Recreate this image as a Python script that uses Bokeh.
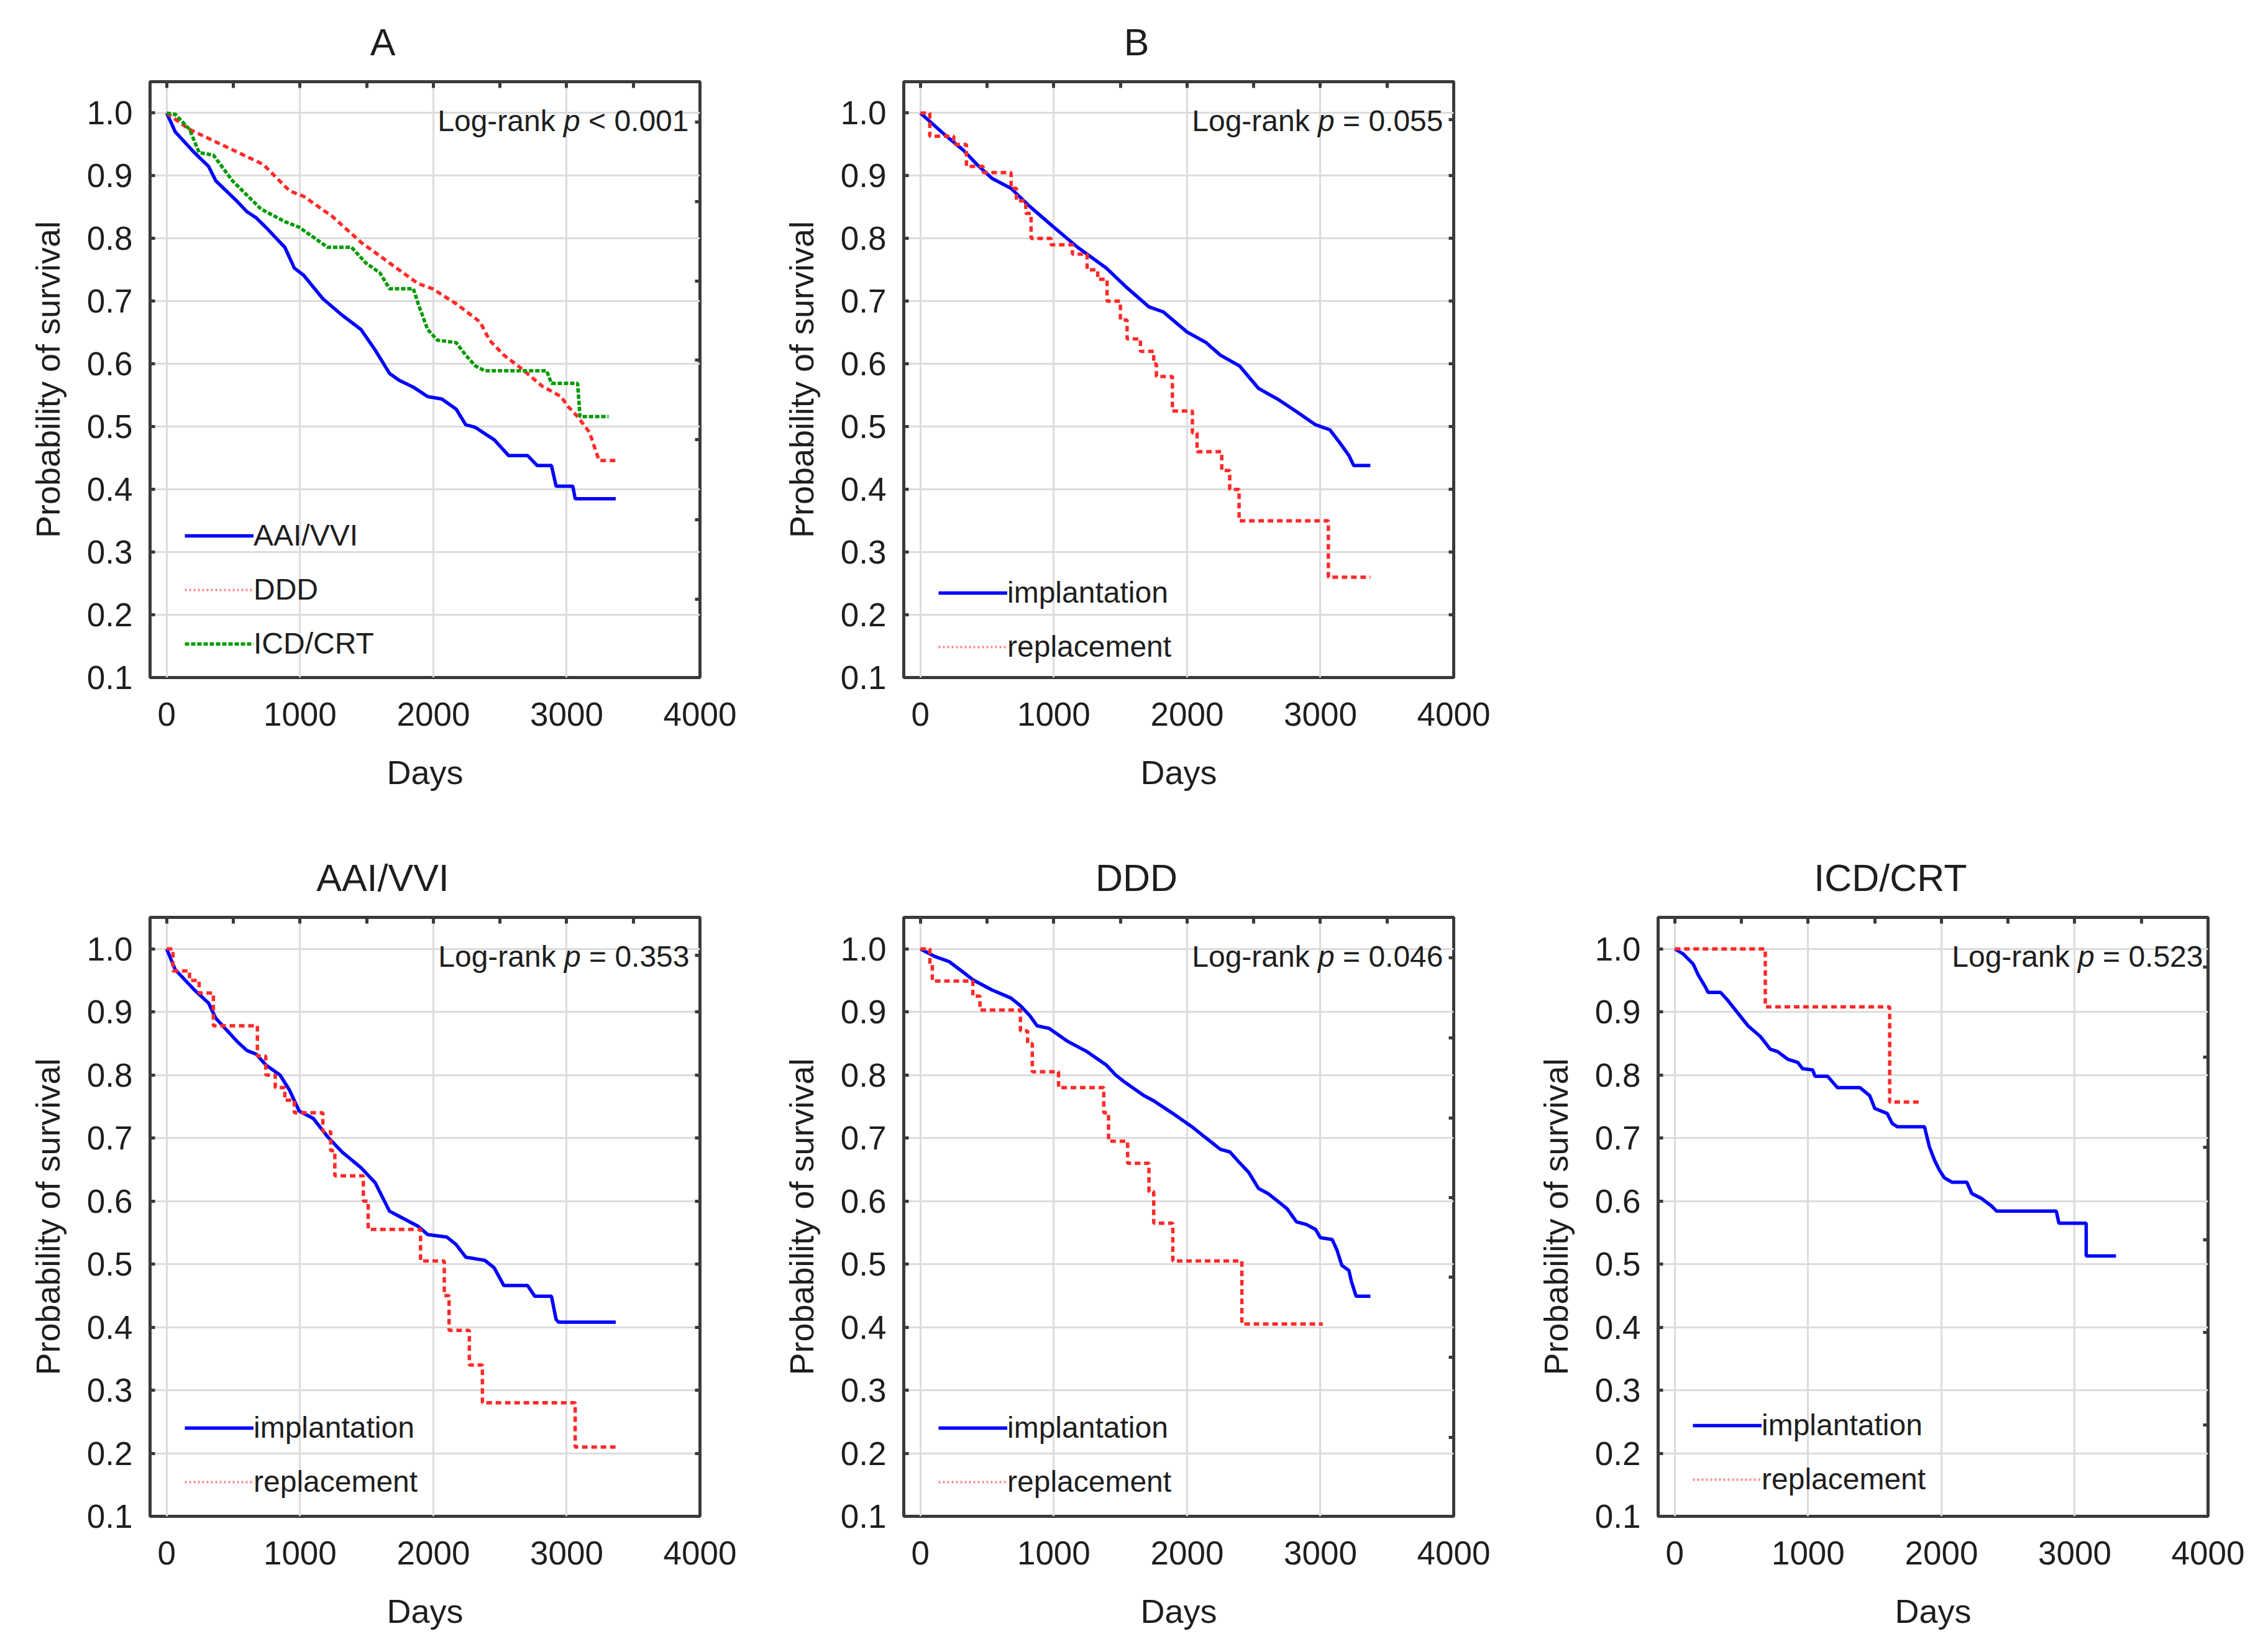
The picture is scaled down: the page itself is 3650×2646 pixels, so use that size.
from bokeh.plotting import figure
from bokeh.layouts import column, row
from bokeh.models import (Range1d, FixedTicker, PrintfTickFormatter, LinearAxis,
                          Legend, LegendItem, Label)
from bokeh.embed import file_html
from bokeh.resources import INLINE

# ---------------- data ----------------
x_ticks = [0, 1000, 2000, 3000, 4000]
y_ticks = [0.1, 0.2, 0.3, 0.4, 0.5, 0.6, 0.7, 0.8, 0.9, 1.0]
top_ticks = [0, 500, 1000, 1500, 2000, 2500, 3000, 3500]

# Panel A
a_aai_x = [0, 64, 207, 314, 368, 529, 600, 671, 743, 814, 886, 957, 1029, 1171, 1314, 1457, 1564, 1671,
           1743, 1850, 1957, 2064, 2171, 2243, 2314, 2457, 2564, 2707, 2779, 2886, 2921, 3046, 3064, 3368]
a_aai_y = [1.0, 0.970, 0.937, 0.915, 0.892, 0.859, 0.843, 0.833, 0.818, 0.802, 0.786, 0.753, 0.741, 0.704,
           0.678, 0.655, 0.622, 0.585, 0.574, 0.563, 0.548, 0.544, 0.528, 0.503, 0.499, 0.479, 0.454, 0.454,
           0.438, 0.438, 0.405, 0.405, 0.385, 0.385]
a_ddd_x = [0, 171, 725, 921, 1029, 1243, 1457, 1671, 1886, 1993, 2171, 2350, 2421, 2529, 2671, 2814, 2957,
           3011, 3082, 3171, 3243, 3368]
a_ddd_y = [1.0, 0.974, 0.918, 0.876, 0.867, 0.835, 0.794, 0.761, 0.728, 0.720, 0.696, 0.667, 0.638, 0.614,
           0.591, 0.565, 0.548, 0.532, 0.516, 0.491, 0.446, 0.446]
a_icd_x = [0, 64, 171, 243, 350, 493, 707, 814, 886, 993, 1100, 1207, 1386, 1493, 1600, 1671, 1850, 1886,
           1957, 2029, 2171, 2243, 2314, 2386, 2850, 2886, 3082, 3100, 3314]
a_icd_y = [1.0, 0.998, 0.974, 0.937, 0.933, 0.892, 0.847, 0.835, 0.827, 0.818, 0.802, 0.786, 0.786, 0.761,
           0.745, 0.720, 0.720, 0.696, 0.655, 0.638, 0.634, 0.614, 0.597, 0.589, 0.589, 0.569, 0.569, 0.516,
           0.516]

# Panel B
b_imp_x = [0, 179, 321, 429, 536, 679, 821, 1000, 1179, 1393, 1536, 1714, 1821, 2000, 2143, 2250, 2393,
           2536, 2679, 2821, 2964, 3071, 3143, 3214, 3250, 3375]
b_imp_y = [1.0, 0.966, 0.941, 0.917, 0.896, 0.880, 0.851, 0.818, 0.786, 0.753, 0.724, 0.691, 0.683, 0.651,
           0.634, 0.614, 0.597, 0.561, 0.544, 0.524, 0.503, 0.495, 0.475, 0.454, 0.438, 0.438]
b_rep_x = [0, 70, 250, 345, 470, 680, 720, 790, 830, 980, 1140, 1250, 1330, 1400, 1500, 1550, 1650, 1750,
           1770, 1890, 2040, 2075, 2260, 2320, 2390, 3060, 3375]
b_rep_y = [1.0, 0.963, 0.95, 0.915, 0.905, 0.88, 0.86, 0.84, 0.80, 0.79, 0.775, 0.75, 0.735, 0.70, 0.67,
           0.64, 0.62, 0.60, 0.58, 0.525, 0.49, 0.46, 0.43, 0.40, 0.35, 0.26, 0.26]

# AAI/VVI
aai_imp_x = [0, 64, 207, 314, 368, 529, 600, 671, 743, 850, 921, 993, 1100, 1207, 1314, 1457, 1564, 1671,
             1743, 1886, 1957, 2100, 2171, 2243, 2386, 2457, 2529, 2707, 2761, 2886, 2921, 2939, 3368]
aai_imp_y = [1.0, 0.967, 0.935, 0.914, 0.890, 0.853, 0.839, 0.833, 0.816, 0.800, 0.776, 0.743, 0.731, 0.702,
             0.678, 0.653, 0.629, 0.584, 0.576, 0.560, 0.547, 0.543, 0.531, 0.511, 0.506, 0.494, 0.466,
             0.466, 0.449, 0.449, 0.412, 0.408, 0.408]
aai_rep_x = [0, 47, 171, 243, 350, 680, 743, 814, 886, 957, 1171, 1230, 1261, 1475, 1511, 1904, 2082, 2118,
             2270, 2368, 3064, 3368]
aai_rep_y = [1.0, 0.965, 0.95, 0.93, 0.878, 0.83, 0.80, 0.78, 0.76, 0.74, 0.71, 0.68, 0.64, 0.60, 0.555,
             0.505, 0.45, 0.395, 0.34, 0.28, 0.21, 0.21]

# DDD
ddd_imp_x = [0, 107, 214, 321, 393, 536, 679, 750, 821, 875, 964, 1107, 1250, 1393, 1464, 1536, 1679, 1750,
             1893, 2036, 2107, 2179, 2250, 2321, 2393, 2464, 2536, 2607, 2679, 2750, 2821, 2893, 2964, 3000,
             3089, 3125, 3161, 3214, 3232, 3268, 3375]
ddd_imp_y = [1.0, 0.988, 0.980, 0.963, 0.951, 0.935, 0.922, 0.910, 0.894, 0.878, 0.874, 0.853, 0.837, 0.816,
             0.800, 0.788, 0.767, 0.759, 0.739, 0.718, 0.706, 0.694, 0.682, 0.678, 0.661, 0.645, 0.620,
             0.612, 0.600, 0.588, 0.567, 0.563, 0.555, 0.542, 0.539, 0.522, 0.498, 0.490, 0.473, 0.449, 0.449]
ddd_rep_x = [0, 71, 89, 393, 446, 750, 804, 839, 1036, 1375, 1411, 1554, 1714, 1750, 1893, 2411, 3018]
ddd_rep_y = [1.0, 0.976, 0.949, 0.925, 0.903, 0.87, 0.85, 0.805, 0.78, 0.74, 0.695, 0.66, 0.615, 0.565,
             0.505, 0.405, 0.405]

# ICD/CRT
icd_imp_x = [0, 63, 138, 175, 231, 250, 343, 399, 474, 549, 642, 716, 772, 847, 922, 959, 1034, 1052, 1146,
             1220, 1388, 1463, 1500, 1593, 1631, 1668, 1873, 1910, 1948, 1985, 2022, 2078, 2190, 2228, 2302,
             2377, 2414, 2862, 2881, 3086, 3086, 3310]
icd_imp_y = [1.0, 0.992, 0.976, 0.959, 0.939, 0.931, 0.931, 0.918, 0.898, 0.878, 0.861, 0.841, 0.837, 0.825,
             0.820, 0.810, 0.808, 0.798, 0.798, 0.780, 0.780, 0.767, 0.747, 0.739, 0.723, 0.718, 0.718,
             0.686, 0.665, 0.649, 0.637, 0.630, 0.630, 0.612, 0.604, 0.592, 0.584, 0.584, 0.565, 0.565,
             0.513, 0.513]
icd_rep_x = [0, 679, 1612, 1854]
icd_rep_y = [1.0, 0.908, 0.757, 0.757]

# right-edge tick marks (as drawn by the original software)
right_ticks_a = [0.986, 0.859, 0.732, 0.606, 0.479, 0.352, 0.225]
right_ticks_b = [0.99, 0.9, 0.8, 0.7, 0.6, 0.5, 0.4, 0.3, 0.2]
right_ticks_icd = [0.971, 0.828, 0.685, 0.539, 0.392, 0.245]

# ---------------- styling ----------------
FONT = "Liberation Sans"
TXT = "#1e1e1e"
BLUE = "#0000ff"
RED = "#ff2a2a"
GREEN = "#009a00"
PINK = "#ff8c8c"
LW = 5.5

ARIAL_W = {'L': 556, 'o': 556, 'g': 556, '-': 333, 'r': 333, 'a': 556, 'n': 556, 'k': 500, ' ': 278,
           'p': 556, '<': 584, '=': 584, '.': 278, 'A': 667, 'B': 667, 'I': 278, '/': 278, 'V': 667,
           'D': 722, 'C': 722, 'R': 722, 'T': 611}
for d in "0123456789":
    ARIAL_W[d] = 556

FRAME_W = 885


def tw(s, fs):
    return sum(ARIAL_W.get(c, 556) for c in s) * fs / 1000.0


def make_panel(title, width, height, left, right, bottom, right_ticks):
    p = figure(width=width, height=height, output_backend="svg", toolbar_location=None,
               x_range=Range1d(-125, 4000), y_range=Range1d(0.1, 1.05),
               min_border_left=left, min_border_right=right, min_border_top=131,
               min_border_bottom=bottom, background_fill_color="white", border_fill_color="white")
    tfs = 61
    p.title.text = title
    p.title.align = "left"
    p.title.offset = FRAME_W / 2 - 68 - tw(title, tfs) / 2
    p.title.text_font = FONT
    p.title.text_font_size = f"{tfs}px"
    p.title.text_font_style = "normal"
    p.title.text_color = TXT
    p.title.standoff = 60

    p.outline_line_color = "#3a3a3a"
    p.outline_line_width = 5
    p.outline_line_alpha = 1.0

    xa = p.xaxis[0]
    xa.ticker = FixedTicker(ticks=x_ticks)
    xa.axis_label = "Days"
    ya = p.yaxis[0]
    ya.ticker = FixedTicker(ticks=y_ticks)
    ya.formatter = PrintfTickFormatter(format="%.1f")
    ya.axis_label = "Probability of survival"
    for ax in (xa, ya):
        ax.axis_line_color = None
        ax.major_label_text_font = FONT
        ax.major_label_text_font_size = "53px"
        ax.major_label_text_color = TXT
        ax.axis_label_text_font = FONT
        ax.axis_label_text_font_size = "54px"
        ax.axis_label_text_font_style = "normal"
        ax.axis_label_text_color = TXT
        ax.minor_tick_line_color = None
        ax.major_tick_out = 0
    xa.major_tick_in = 0
    xa.major_label_standoff = 40
    xa.axis_label_standoff = 42
    ya.major_tick_in = 8
    ya.major_tick_line_color = "#3a3a3a"
    ya.major_tick_line_width = 5
    ya.major_label_standoff = 28
    ya.axis_label_standoff = 30

    # extra tick-only axes on top and right edges
    top = LinearAxis(ticker=FixedTicker(ticks=top_ticks), axis_line_color=None,
                     major_tick_in=10, major_tick_out=0, major_tick_line_width=5,
                     major_tick_line_color="#3a3a3a", minor_tick_line_color=None,
                     major_label_text_font_size="0px", major_label_text_color=None,
                     major_label_standoff=0)
    p.add_layout(top, "above")
    rt = LinearAxis(ticker=FixedTicker(ticks=right_ticks), axis_line_color=None,
                    major_tick_in=8, major_tick_out=0, major_tick_line_width=5,
                    major_tick_line_color="#3a3a3a", minor_tick_line_color=None,
                    major_label_text_font_size="0px", major_label_text_color=None,
                    major_label_standoff=0)
    p.add_layout(rt, "right")

    p.xgrid.ticker = FixedTicker(ticks=x_ticks)
    p.ygrid.ticker = FixedTicker(ticks=y_ticks)
    for g in (p.xgrid[0], p.ygrid[0]):
        g.grid_line_color = "#dcdcdc"
        g.grid_line_width = 3
    return p


def add_logrank(p, rel, stat, right_off):
    fs = 48
    a, b, c = "Log-rank", "p", rel + " " + stat
    total = tw(a + " ", fs) + tw(b, fs) + tw(" " + c, fs)
    start = -right_off - total
    offs = [start, start + tw(a + " ", fs), start + tw(a + " ", fs) + tw(b + " ", fs)]
    for txt, off, style in zip((a, b, c), offs, ("normal", "italic", "normal")):
        p.add_layout(Label(x=4000, y=0.988, x_offset=off, text=txt, text_align="left",
                           text_baseline="middle", text_font=FONT, text_font_size=f"{fs}px",
                           text_font_style=style, text_color=TXT))


def add_legend(p, items, y_loc):
    lg = Legend(items=items, location=(56, y_loc), orientation="vertical",
                glyph_width=111, glyph_height=30, label_standoff=0, spacing=32,
                padding=0, margin=0, border_line_color=None, background_fill_alpha=0,
                label_text_font=FONT, label_text_font_size="48px", label_text_color=TXT,
                label_height=30)
    p.add_layout(lg, "center")


def rep_legend_renderer(p):
    # legend-only sample (pale dotted, as in the original key); holds no visible data
    nan = float("nan")
    return p.line(x=[nan], y=[nan], line_color=PINK, line_width=4, line_dash="3 4")


W1, W3 = 1213, 1215
H1, H2 = 1345, 1293

# ---- Panel A ----
pA = make_panel("A", W1, H1, 241, 87, 255, right_ticks_a)
rA1 = pA.line(a_aai_x, a_aai_y, line_color=BLUE, line_width=LW)
pA.line(a_ddd_x, a_ddd_y, line_color=RED, line_width=LW, line_dash="9 6")
rA3 = pA.line(a_icd_x, a_icd_y, line_color=GREEN, line_width=LW, line_dash="7 3")
rA2l = rep_legend_renderer(pA)
add_legend(pA, [LegendItem(label="AAI/VVI", renderers=[rA1]),
                LegendItem(label="DDD", renderers=[rA2l]),
                LegendItem(label="ICD/CRT", renderers=[rA3])], 27)
add_logrank(pA, "<", "0.001", 18)

# ---- Panel B ----
pB = make_panel("B", W1, H1, 241, 87, 255, right_ticks_b)
rB1 = pB.line(b_imp_x, b_imp_y, line_color=BLUE, line_width=LW)
pB.step(b_rep_x, b_rep_y, mode="after", line_color=RED, line_width=LW, line_dash="9 6")
rB2l = rep_legend_renderer(pB)
add_legend(pB, [LegendItem(label="implantation", renderers=[rB1]),
                LegendItem(label="replacement", renderers=[rB2l])], 22)
add_logrank(pB, "=", "0.055", 17)

# ---- AAI/VVI ----
pC = make_panel("AAI/VVI", W1, H2, 241, 87, 198, right_ticks_b)
rC1 = pC.line(aai_imp_x, aai_imp_y, line_color=BLUE, line_width=LW)
pC.step(aai_rep_x, aai_rep_y, mode="after", line_color=RED, line_width=LW, line_dash="9 6")
rC2l = rep_legend_renderer(pC)
add_legend(pC, [LegendItem(label="implantation", renderers=[rC1]),
                LegendItem(label="replacement", renderers=[rC2l])], 28)
add_logrank(pC, "=", "0.353", 17)

# ---- DDD ----
pD = make_panel("DDD", W1, H2, 241, 87, 198, right_ticks_a)
rD1 = pD.line(ddd_imp_x, ddd_imp_y, line_color=BLUE, line_width=LW)
pD.step(ddd_rep_x, ddd_rep_y, mode="after", line_color=RED, line_width=LW, line_dash="9 6")
rD2l = rep_legend_renderer(pD)
add_legend(pD, [LegendItem(label="implantation", renderers=[rD1]),
                LegendItem(label="replacement", renderers=[rD2l])], 28)
add_logrank(pD, "=", "0.046", 17)

# ---- ICD/CRT ----
pE = make_panel("ICD/CRT", W3, H2, 242, 88, 198, right_ticks_icd)
rE1 = pE.line(icd_imp_x, icd_imp_y, line_color=BLUE, line_width=LW)
pE.step(icd_rep_x, icd_rep_y, mode="after", line_color=RED, line_width=LW, line_dash="9 6")
rE2l = rep_legend_renderer(pE)
add_legend(pE, [LegendItem(label="implantation", renderers=[rE1]),
                LegendItem(label="replacement", renderers=[rE2l])], 32)
add_logrank(pE, "=", "0.523", 8)

layout = column(row(pA, pB), row(pC, pD, pE))

with open("out.html", "w") as f:
    f.write(file_html(layout, INLINE))
